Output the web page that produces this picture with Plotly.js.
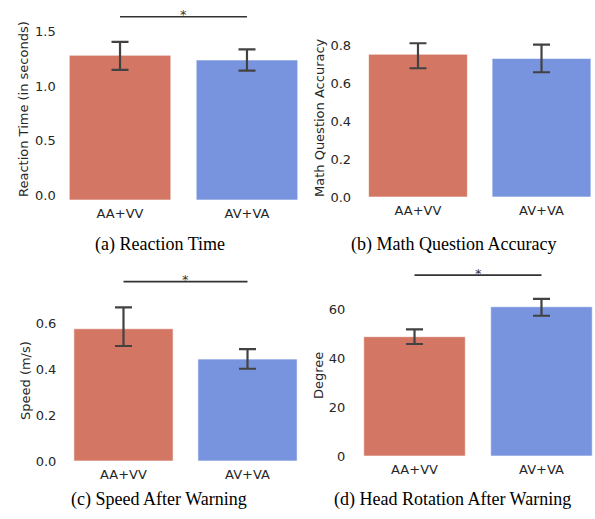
<!DOCTYPE html>
<html>
<head>
<meta charset="utf-8">
<script src="https://cdn.plot.ly/plotly-3.0.1.min.js"></script>
<style>html,body{margin:0;padding:0;background:#fff;}#chart{width:595px;height:519px;}</style>
</head>
<body>
<div id="chart"></div>
<script>
// ---- data ----
const categories = ['AA+VV', 'AV+VA'];

const reactionTime = [1.331, 1.288];
const reactionHi = [1.454, 1.386];
const reactionLo = [1.196, 1.190];
const reactionSig = 1.686;
const reactionTicks = [0.0, 0.5, 1.0, 1.5];

const mathAccuracy = [0.753, 0.731];
const mathHi = [0.811, 0.804];
const mathLo = [0.679, 0.658];
const mathTicks = [0.0, 0.2, 0.4, 0.6, 0.8];

const speed = [0.575, 0.443];
const speedHi = [0.668, 0.486];
const speedLo = [0.500, 0.401];
const speedSig = 0.78;
const speedTicks = [0.0, 0.2, 0.4, 0.6];

const headRotation = [49.0, 61.3];
const headHi = [52.0, 64.5];
const headLo = [46.0, 57.6];
const headSig = 74.3;
const headTicks = [0, 20, 40, 60];

const yTitles = ['Reaction Time (in seconds)', 'Math Question Accuracy', 'Speed (m/s)', 'Degree'];
const captions = ['(a) Reaction Time', '(b) Math Question Accuracy', '(c) Speed After Warning', '(d) Head Rotation After Warning'];

// ---- style ----
const barColors = ['#d37664', '#7894de'];
const errColor = '#424242';
const textColor = '#262626';
const sansFont = 'DejaVu Sans';
const serifFont = 'Liberation Serif';

function barTrace(vals, hi, lo, ax) {
  return {
    type: 'bar', x: categories, y: vals,
    xaxis: 'x' + ax, yaxis: 'y' + ax,
    marker: {color: barColors, line: {color: 'rgba(255,255,255,0.6)', width: 1}},
    error_y: {
      type: 'data', symmetric: false,
      array: hi.map((h, i) => h - vals[i]),
      arrayminus: lo.map((l, i) => vals[i] - l),
      color: errColor, thickness: 2.2, width: 8.5
    },
    hoverinfo: 'skip', showlegend: false
  };
}
function sigTrace(level, ax) {
  return {
    type: 'scatter', mode: 'lines', x: categories, y: [level, level],
    xaxis: 'x' + ax, yaxis: 'y' + ax,
    line: {color: '#333333', width: 1.6}, hoverinfo: 'skip', showlegend: false, cliponaxis: false
  };
}

const data = [
  barTrace(reactionTime, reactionHi, reactionLo, ''),
  sigTrace(reactionSig, ''),
  barTrace(mathAccuracy, mathHi, mathLo, '2'),
  barTrace(speed, speedHi, speedLo, '3'),
  sigTrace(speedSig, '3'),
  barTrace(headRotation, headHi, headLo, '4'),
  sigTrace(headSig, '4')
];

function xax(domain) {
  return {domain: domain, type: 'category', range: [-0.42, 1.42], showgrid: false, zeroline: false,
    showline: false, ticks: '', ticklabelstandoff: 4,
    tickfont: {family: sansFont, size: 13, color: textColor}, fixedrange: true};
}
function yax(domain, range, ticks, fmt, shift, standoff) {
  return {domain: domain, range: range, tickvals: ticks, tickformat: fmt, showgrid: false, zeroline: false,
    showline: false, ticks: '', ticklabelshift: shift, ticklabelstandoff: standoff,
    tickfont: {family: sansFont, size: 13, color: textColor}, fixedrange: true};
}

const layout = {
  width: 595, height: 519,
  margin: {l: 0, r: 0, t: 0, b: 0},
  paper_bgcolor: '#ffffff', plot_bgcolor: 'rgba(0,0,0,0)',
  bargap: 0.2,
  xaxis: xax([0.1121, 0.5047]),
  yaxis: yax([0.61464, 0.99171], [0, 1.8], reactionTicks, '.1f', -5, 10),
  xaxis2: Object.assign(xax([0.6153, 0.9973]), {anchor: 'y2'}),
  yaxis2: Object.assign(yax([0.62042, 0.98574], [0, 1.0], mathTicks, '.1f', 0, 14), {anchor: 'x2'}),
  xaxis3: Object.assign(xax([0.1200, 0.50353]), {anchor: 'y3'}),
  yaxis3: Object.assign(yax([0.11175, 0.48844], [0, 0.85], speedTicks, '.1f', 0, 14), {anchor: 'x3'}),
  xaxis4: Object.assign(xax([0.60706, 0.99966]), {anchor: 'y4'}),
  yaxis4: Object.assign(yax([0.12139, 0.49672], [0, 80], headTicks, 'd', 0, 15), {anchor: 'x4'}),
  annotations: []
};
layout.xaxis.anchor = 'y';
layout.yaxis.anchor = 'x';

// significance stars
[['', reactionSig], ['3', speedSig], ['4', headSig]].forEach(([ax, lvl]) => {
  layout.annotations.push({xref: 'x' + ax, yref: 'y' + ax, x: 0.5, y: lvl, text: '*', showarrow: false,
    yanchor: 'middle', yshift: 2, font: {family: sansFont, size: 13, color: '#333333'}});
});

// y-axis titles
const yTitlePos = [[23, 109], [320, 118], [25, 381], [318, 376]];
yTitles.forEach((t, i) => {
  layout.annotations.push({xref: 'paper', yref: 'paper', x: yTitlePos[i][0] / 595, y: 1 - yTitlePos[i][1] / 519,
    text: t, textangle: -90, showarrow: false, xanchor: 'center', yanchor: 'middle',
    font: {family: sansFont, size: 13, color: textColor}});
});

// captions
const capPos = [[159.5, 244], [453, 244], [159, 499], [452, 499]];
captions.forEach((t, i) => {
  layout.annotations.push({xref: 'paper', yref: 'paper', x: capPos[i][0] / 595, y: 1 - capPos[i][1] / 519,
    text: t, showarrow: false, xanchor: 'center', yanchor: 'middle',
    font: {family: serifFont, size: 18, color: '#000000'}});
});

Plotly.newPlot('chart', data, layout, {displayModeBar: false, staticPlot: true});
</script>
</body>
</html>
